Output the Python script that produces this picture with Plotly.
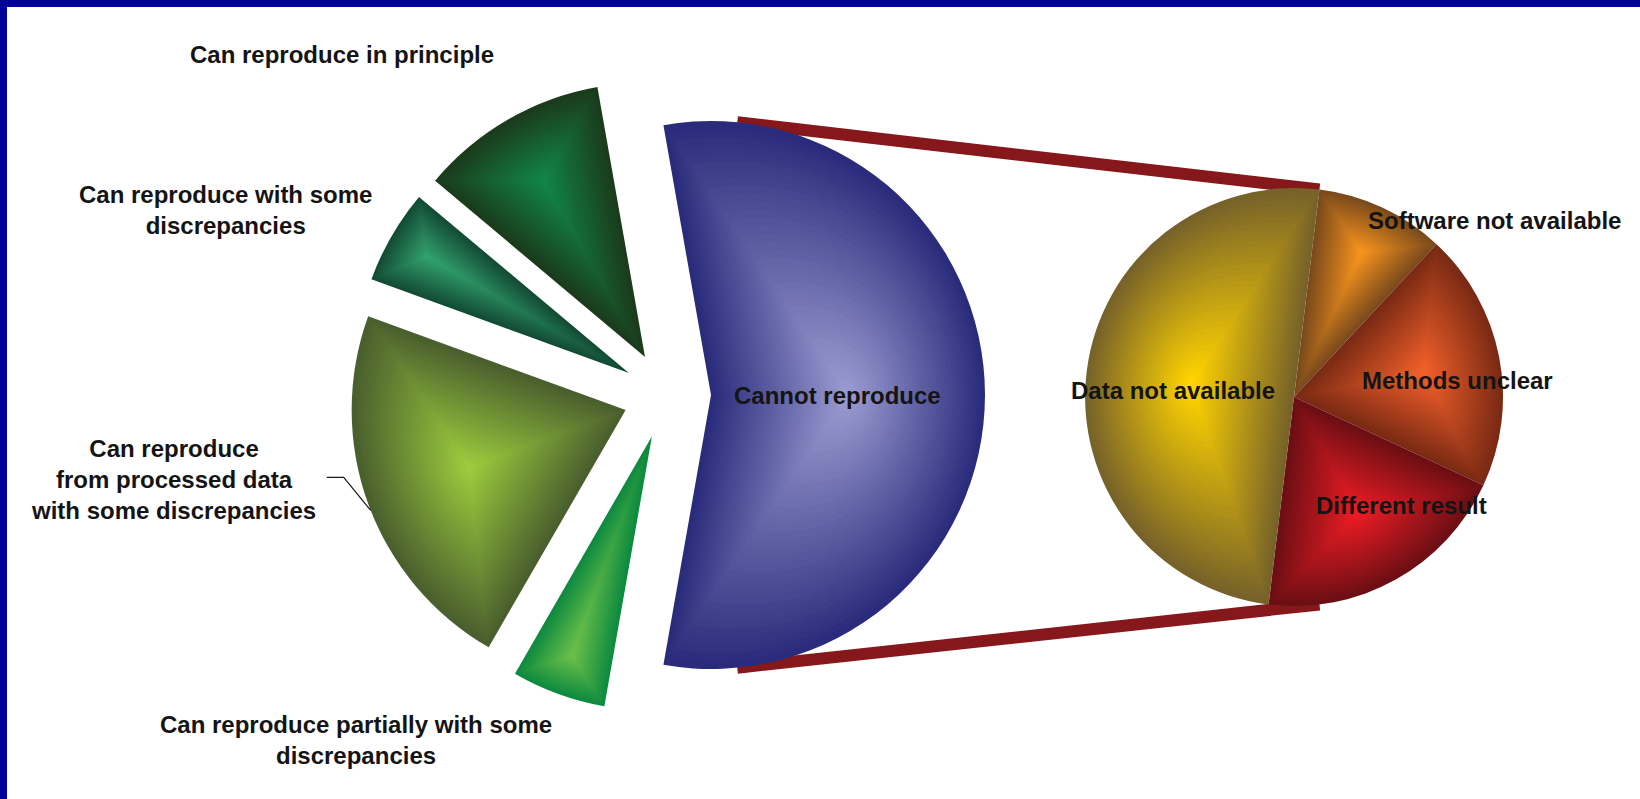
import math
import plotly.graph_objects as go

# Outcome of the attempts to repeat 18 published analyses
main_labels = [
    "Cannot reproduce",
    "Can reproduce partially with some discrepancies",
    "Can reproduce from processed data with some discrepancies",
    "Can reproduce with some discrepancies",
    "Can reproduce in principle",
]
main_values = [10, 1, 4, 1, 2]
main_edge = ["#2a2c7b", "#0d8a3f", "#4a5f2e", "#134b35", "#1b3b1c"]
main_core = ["#9a9ad0", "#6cc04a", "#9ccb3d", "#32a26d", "#118646"]

# Breakdown of "Cannot reproduce"
sub_labels = ["Software not available", "Methods unclear", "Different result", "Data not available"]
sub_values = [1, 2, 2, 5]
sub_edge = ["#7a4a1c", "#7a2a14", "#6b0f14", "#776229"]
sub_core = ["#f7941d", "#f2602a", "#ee1c25", "#ffd400"]

# ---- page geometry (pixels) ----
W, H = 1640, 799
MAIN_CX, MAIN_CY, MAIN_R, MAIN_EXPLODE, MAIN_START = 667, 395, 274, 44, -10
SUB_CX, SUB_CY, SUB_R, SUB_START = 1294, 397, 209, 7
CONNECT_OFFSET = 5.5   # degrees along the arc where the connectors leave the slice
LAYERS = 34
FONT = dict(family="Arial, 'Liberation Sans', sans-serif", size=24, color="#141414", weight="bold")


def px(x, y):
    return x / W, 1 - y / H


def mix(c1, c2, t):
    a = [int(c1[i:i + 2], 16) for i in (1, 3, 5)]
    b = [int(c2[i:i + 2], 16) for i in (1, 3, 5)]
    return "rgb(%d,%d,%d)" % tuple(round(a[j] + (b[j] - a[j]) * t) for j in range(3))


def shaded_pie(labels, values, edges, cores, cx, cy, radius, explode, start):
    """Each slice is built from nested copies of itself, inset step by step
    and moved out along its bisector, to give the bevelled light-centre shading."""
    total = float(sum(values))
    traces = []
    before = 0.0
    for i in range(len(values)):
        half = math.pi * values[i] / total
        mid = math.radians(start) + 2 * math.pi * (before + values[i] / 2.0) / total
        before += values[i]
        s_half = math.sin(half)
        inset_max = radius * s_half / (1 + s_half)
        for k in range(LAYERS):
            inset = inset_max * k / LAYERS
            shift = inset / s_half
            r = radius - inset - shift
            off = explode + shift
            ox = cx + off * math.sin(mid)
            oy = cy - off * math.cos(mid)
            colors = ["rgba(0,0,0,0)"] * len(values)
            colors[i] = mix(edges[i], cores[i], k / (LAYERS - 1))
            x0, y1 = px(ox - r, oy - r)
            x1, y0 = px(ox + r, oy + r)
            traces.append(go.Pie(
                labels=labels, values=values, sort=False, direction="clockwise",
                rotation=start,
                marker=dict(colors=colors, line=dict(width=0)),
                textinfo="none", hoverinfo="skip", showlegend=False,
                domain=dict(x=[x0, x1], y=[y0, y1]),
            ))
    return traces


fig = go.Figure()
for t in shaded_pie(main_labels, main_values, main_edge, main_core,
                    MAIN_CX, MAIN_CY, MAIN_R, MAIN_EXPLODE, MAIN_START):
    fig.add_trace(t)
for t in shaded_pie(sub_labels, sub_values, sub_edge, sub_core,
                    SUB_CX, SUB_CY, SUB_R, 0, SUB_START):
    fig.add_trace(t)

# ---- connector lines from the "Cannot reproduce" slice to the secondary pie ----
mid0 = math.radians(MAIN_START + 180.0 * main_values[0] / sum(main_values))
apex_x = MAIN_CX + MAIN_EXPLODE * math.sin(mid0)
apex_y = MAIN_CY - MAIN_EXPLODE * math.cos(mid0)


def on_circle(cx, cy, r, ang):
    return cx + r * math.sin(ang), cy - r * math.cos(ang)


off_c = math.radians(CONNECT_OFFSET)
main_top = on_circle(apex_x, apex_y, MAIN_R, mid0 - math.pi / 2 + off_c)
main_bot = on_circle(apex_x, apex_y, MAIN_R, mid0 + math.pi / 2 - off_c)
sub_top = on_circle(SUB_CX, SUB_CY, SUB_R, math.radians(SUB_START))
sub_bot = on_circle(SUB_CX, SUB_CY, SUB_R, math.radians(180 - SUB_START))

shapes = []
for a, b in ((main_top, sub_top), (main_bot, sub_bot)):
    (xa, ya), (xb, yb) = px(*a), px(*b)
    shapes.append(dict(type="line", xref="paper", yref="paper", x0=xa, y0=ya, x1=xb, y1=yb,
                       line=dict(color="#86171b", width=12), layer="below"))

# leader line for the processed-data label
olive_mid = math.radians(MAIN_START + 360.0 * (main_values[0] + main_values[1] + main_values[2] / 2)
                         / sum(main_values))
olive_ax = MAIN_CX + MAIN_EXPLODE * math.sin(olive_mid)
olive_ay = MAIN_CY - MAIN_EXPLODE * math.cos(olive_mid)
lead_end = on_circle(olive_ax, olive_ay, MAIN_R, math.radians(248.5))
lead_knee = (lead_end[0] - 27, lead_end[1] - 33)
lead_start = (lead_knee[0] - 17, lead_knee[1])
pts = [px(*p) for p in (lead_start, lead_knee, lead_end)]
shapes.append(dict(type="path", xref="paper", yref="paper",
                   path="M %f,%f L %f,%f L %f,%f" % (pts[0] + pts[1] + pts[2]),
                   line=dict(color="#1a1a1a", width=1.2)))

# page frame (left and top rule)
shapes.append(dict(type="rect", xref="paper", yref="paper", x0=0, x1=7 / W, y0=0, y1=1,
                   fillcolor="#000099", line=dict(width=0), layer="below"))
shapes.append(dict(type="rect", xref="paper", yref="paper", x0=0, x1=1, y0=1 - 7 / H, y1=1,
                   fillcolor="#000099", line=dict(width=0), layer="below"))

# ---- slice labels ----
label_places = [
    ("Can reproduce in principle", 342, 55),
    ("Can reproduce with some<br>discrepancies", 225, 210),
    ("Can reproduce<br>from processed data<br>with some discrepancies", 173, 479),
    ("Can reproduce partially with some<br>discrepancies", 356, 740),
    ("Cannot reproduce", 837, 395),
    ("Data not available", 1173, 390),
    ("Software not available", 1494, 220),
    ("Methods unclear", 1457, 380),
    ("Different result", 1401, 505),
]
annotations = []
for text, x, y in label_places:
    ax, ay = px(x, y)
    annotations.append(dict(text=text, x=ax, y=ay, xref="paper", yref="paper",
                            xanchor="center", yanchor="middle", showarrow=False,
                            align="center", font=FONT))

fig.update_layout(
    width=W, height=H,
    margin=dict(l=0, r=0, t=0, b=0),
    paper_bgcolor="white",
    plot_bgcolor="white",
    shapes=shapes,
    annotations=annotations,
    showlegend=False,
)

fig.write_html("out.html")
